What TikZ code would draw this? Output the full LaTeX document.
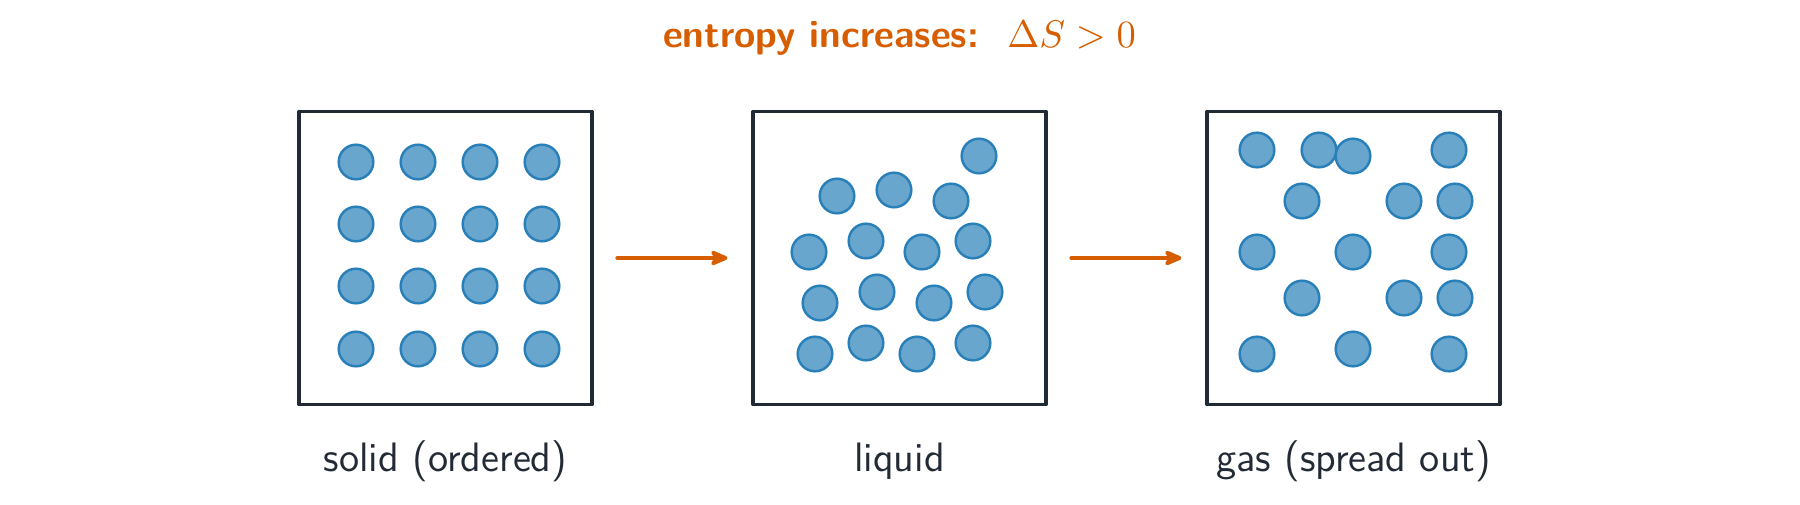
\documentclass[tikz,border=0pt]{standalone}
\usepackage{amsmath}
\usetikzlibrary{arrows.meta}
\definecolor{framecol}{HTML}{222A36}
\definecolor{partfill}{RGB}{105,166,206}
\definecolor{partedge}{HTML}{2980B9}
\definecolor{arrowcol}{HTML}{D75E00}

\begin{document}
\begin{tikzpicture}[
    phasebox/.style={draw=framecol, line width=0.9pt, line join=round, minimum size=2.93cm, inner sep=0pt},
    particle/.style={fill=partfill, draw=partedge, line width=0.7pt},
    steparrow/.style={draw=arrowcol, line width=1.3pt, line cap=round, -{Stealth[length=6.6pt,width=5.6pt,round]}, shorten <=0.24cm, shorten >=0.24cm},
    phaselabel/.style={anchor=base, text=framecol, font=\sffamily\fontsize{11.7}{14}\selectfont}
]
    \useasboundingbox (0,0) rectangle (18,-5.05);

    \node[anchor=base, text=arrowcol, font=\sffamily\bfseries\fontsize{11}{13}\selectfont] (title) at (8.995,-0.47) {entropy increases:~~$\Delta S > 0$};

    \node[phasebox] (solid) at ( 4.455,-2.58) {};
    \node[phasebox] (liquid) at ( 8.995,-2.58) {};
    \node[phasebox] (gas) at (13.535,-2.58) {};

    % solid: regular grid
    \foreach \x in {3.56,4.18,4.80,5.42}
        \foreach \y in {-1.62,-2.24,-2.86,-3.49}
            \draw[particle] (\x,\y) circle (0.173);

    % liquid: close but disordered
    \foreach \x/\y in {9.79/-1.56, 8.37/-1.96, 8.94/-1.90, 9.51/-2.01,
                       8.09/-2.52, 8.66/-2.41, 9.22/-2.52, 9.73/-2.41,
                       8.20/-3.03, 8.77/-2.92, 9.34/-3.03, 9.85/-2.92,
                       8.15/-3.54, 8.66/-3.43, 9.17/-3.54, 9.73/-3.43}
        \draw[particle] (\x,\y) circle (0.173);

    % gas: spread out
    \foreach \x/\y in {12.57/-1.50, 13.19/-1.50, 13.53/-1.56, 14.49/-1.50,
                       13.02/-2.01, 14.04/-2.01, 14.55/-2.01,
                       12.57/-2.52, 13.53/-2.52, 14.49/-2.52,
                       13.02/-2.98, 14.04/-2.98, 14.55/-2.98,
                       12.57/-3.54, 13.53/-3.49, 14.49/-3.54}
        \draw[particle] (\x,\y) circle (0.173);

    \draw[steparrow] (solid) -- (liquid);
    \draw[steparrow] (liquid) -- (gas);

    \node[phaselabel] (solidlbl) at ( 4.455,-4.71) {solid (ordered)};
    \node[phaselabel] (liquidlbl) at ( 8.995,-4.71) {liquid};
    \node[phaselabel] (gaslbl) at (13.535,-4.71) {gas (spread out)};
\end{tikzpicture}
\end{document}
